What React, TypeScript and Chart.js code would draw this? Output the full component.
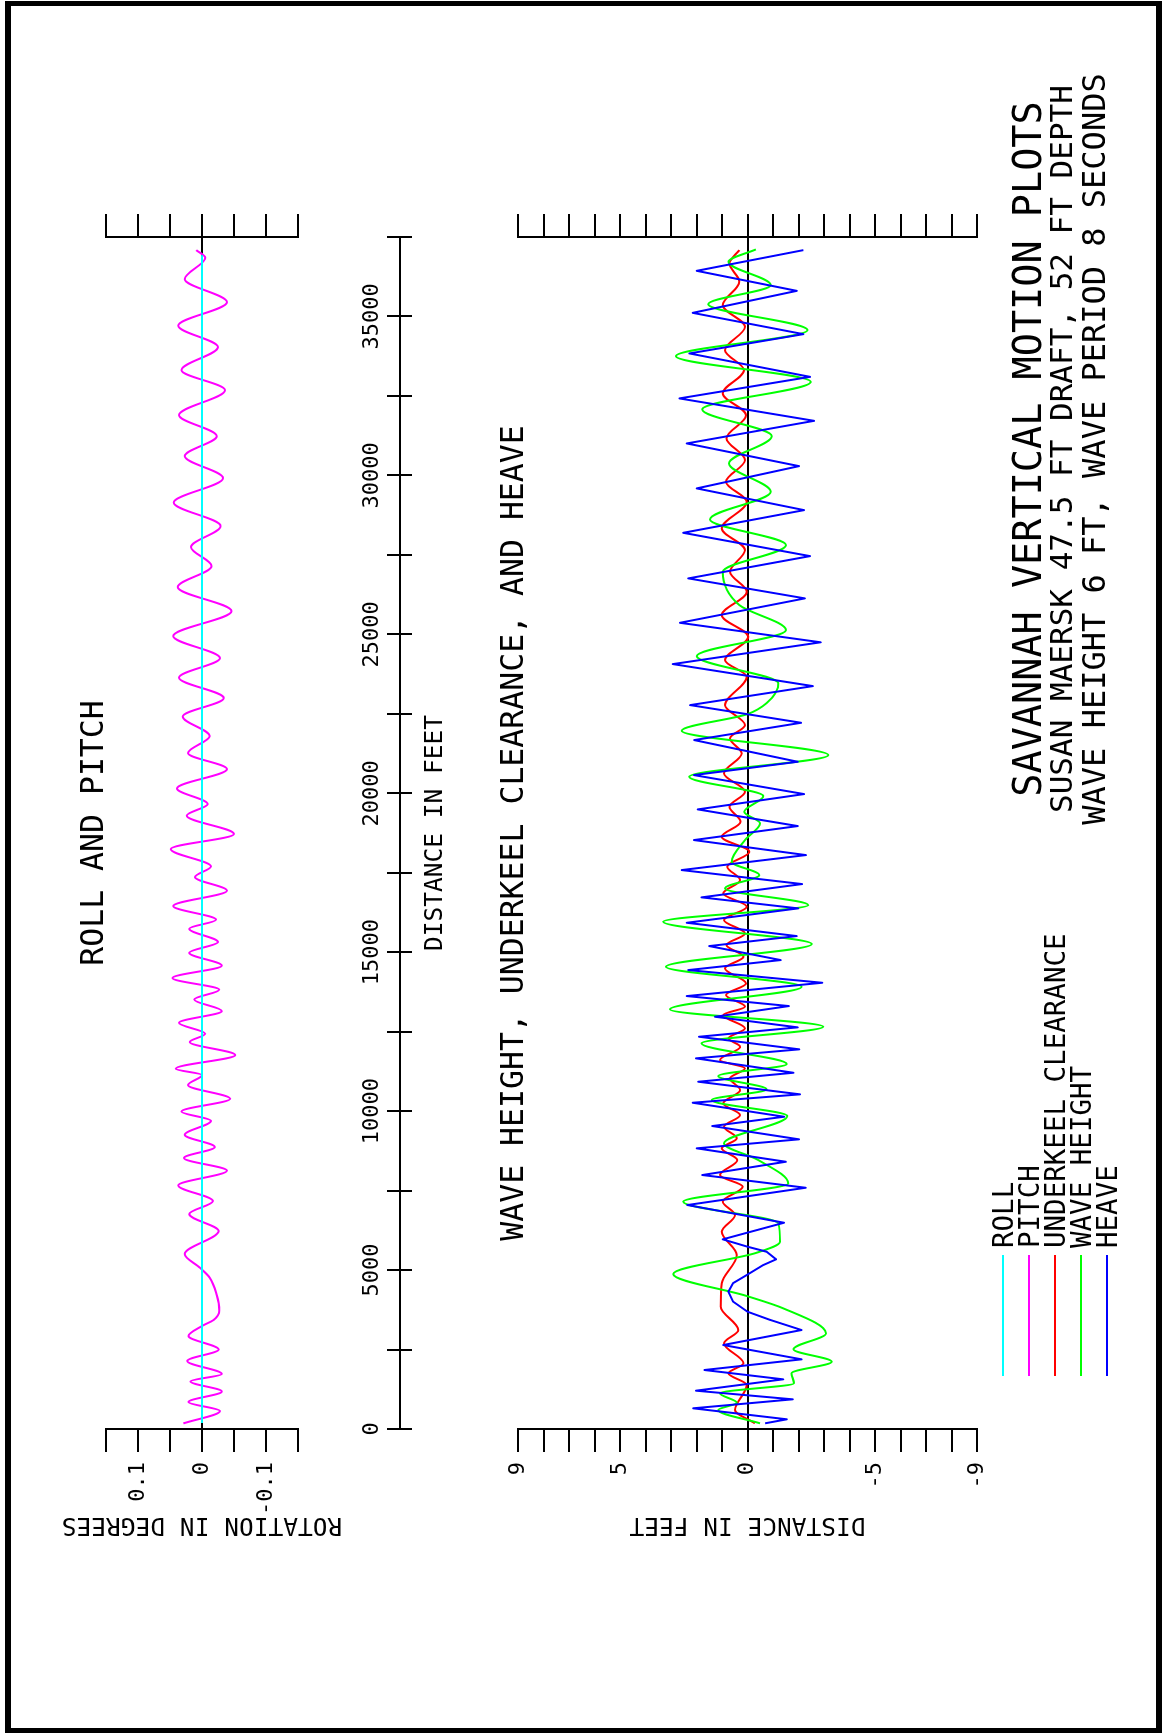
import React, { useEffect, useRef } from 'react';
import { Chart, registerables } from 'chart.js';

Chart.register(...registerables);

const FONT = "'DejaVu Sans Mono', monospace";
Chart.defaults.font.family = FONT;
Chart.defaults.color = '#000';

// ---------------- data (distance in feet along track) ----------------
const rollDist = [189, 36930];
const rollDeg = [0, 0];

const pitchDist = [176, 566, 849, 1180, 1497, 1730, 2139, 2501, 2925, 3240, 3429, 3724, 4215, 4763, 5068, 5505, 6228, 6763, 7172, 7663, 8128, 8525, 8871, 9255, 9695, 9987, 10390, 10821, 11136, 11334, 11765, 12174, 12435, 12778, 13149, 13511, 13819, 14187, 14577, 14980, 15319, 15738, 16021, 16452, 16936, 17364, 17697, 18245, 18717, 19296, 19660, 20151, 20761, 21265, 21799, 22413, 22995, 23637, 24253, 24945, 25731, 26486, 27147, 27745, 28405, 29144, 29915, 30607, 31236, 31897, 32683, 33312, 34036, 34709, 35451, 36175, 36851, 37087];
const pitchDeg = [0.029, -0.028, 0.021, -0.031, 0.018, -0.031, 0.023, -0.026, 0.021, 0.000, -0.018, -0.027, -0.023, -0.012, 0.003, 0.027, -0.026, 0.020, -0.017, 0.037, -0.039, 0.028, -0.020, 0.027, -0.014, 0.032, -0.044, 0.022, 0.000, 0.041, -0.052, 0.019, -0.005, 0.036, -0.031, 0.012, -0.027, 0.046, -0.031, 0.020, -0.025, 0.020, -0.022, 0.045, -0.039, 0.011, -0.014, 0.049, -0.050, 0.024, -0.009, 0.039, -0.039, 0.022, -0.012, 0.030, -0.034, 0.036, -0.028, 0.045, -0.046, 0.038, -0.015, 0.017, -0.029, 0.044, -0.033, 0.027, -0.023, 0.036, -0.036, 0.032, -0.025, 0.037, -0.039, 0.027, -0.005, 0.009];

const ukcDist = [179, 598, 1384, 1752, 2067, 2696, 3114, 3847, 4583, 5473, 6206, 6732, 7150, 7622, 7990, 8462, 8830, 9144, 9509, 9877, 10245, 10664, 11032, 11346, 11607, 12026, 12290, 12604, 13023, 13284, 13652, 14020, 14492, 14857, 15225, 15593, 16011, 16430, 16851, 17269, 17688, 18160, 18631, 19103, 19575, 20047, 20626, 21255, 21727, 22145, 22774, 23664, 24190, 24922, 25605, 26338, 26967, 27650, 28333, 29169, 29798, 30481, 31164, 31896, 32579, 33312, 33941, 34674, 35357, 36090, 36668, 37087];
const ukcFt = [-0.29, 0.49, 0.03, 0.75, 0.16, 0.92, 0.36, 1.05, 1.01, 0.42, 1.01, 0.49, 0.97, 0.19, 1.08, 0.40, 1.01, 0.42, 0.92, 0.29, 0.95, 0.29, 0.69, 0.10, 1.08, 0.29, 0.75, 0.10, 0.95, 0.10, 0.84, 0.06, 0.88, 0.16, 0.82, 0.10, 0.92, 0.03, 0.95, 0.29, 0.79, -0.07, 1.01, 0.27, 0.71, 0.10, 0.92, 0.23, 0.69, 0.10, 0.88, 0.03, 0.88, -0.03, 1.01, 0.03, 0.69, 0.10, 1.01, 0.03, 0.84, 0.10, 0.82, 0.06, 0.97, 0.14, 0.88, 0.10, 0.97, 0.32, 0.71, 0.32];

const waveDist = [179, 598, 827, 1123, 1438, 1752, 2117, 2507, 3010, 3797, 4184, 4876, 5546, 5892, 6470, 7150, 7729, 8462, 8987, 9846, 10349, 10686, 11104, 11481, 12133, 12655, 13202, 13913, 14542, 15256, 15958, 16483, 17008, 17427, 17845, 18528, 19053, 19418, 19912, 20519, 21201, 21966, 22491, 22837, 23457, 24315, 25133, 25920, 26967, 27807, 28615, 29484, 30377, 31236, 32076, 32944, 33752, 34570, 35388, 35986, 36719, 37109];
const waveFt = [-0.49, 1.15, 0.42, 1.08, -1.82, -1.73, -3.30, -1.80, -3.08, -1.40, 0.03, 2.91, -0.36, -1.27, -1.21, 2.52, -1.60, -0.42, 0.92, -1.56, 1.40, -0.75, 1.15, -1.54, 1.80, -2.97, 3.04, -2.12, 3.20, -2.52, 3.30, -2.38, 0.88, -0.46, 0.62, 0.10, -0.49, 0.13, -0.62, 2.28, -3.17, 2.58, 0.00, -0.75, -1.21, 1.99, -1.51, 0.32, 0.97, -1.51, 1.47, -0.91, 0.73, -0.95, 1.77, -2.48, 2.80, -2.35, 1.54, -0.91, 0.75, -0.33];

const heaveDist = [179, 305, 651, 934, 1205, 1563, 1856, 2192, 2642, 3114, 3429, 3690, 4004, 4319, 4592, 4844, 5159, 5338, 5577, 5735, 5967, 6489, 7046, 7590, 7990, 8408, 8830, 9113, 9531, 9824, 10264, 10528, 10925, 11208, 11661, 11944, 12340, 12636, 12969, 13306, 13620, 14039, 14438, 14753, 15193, 15508, 15926, 16379, 16725, 17144, 17584, 18056, 18528, 18968, 19493, 19975, 20572, 20991, 21673, 22218, 22774, 23372, 24064, 24750, 25363, 26131, 26760, 27461, 28194, 28908, 29591, 30292, 31006, 31717, 32422, 33101, 33837, 34444, 35114, 35806, 36436, 37087];
const heaveFt = [-0.69, -1.54, 2.13, -1.77, 2.02, -1.40, 1.69, -2.12, 0.95, -2.12, -0.90, 0.00, 0.56, 0.75, 0.56, 0.03, -0.62, -1.12, -0.75, 0.00, 0.97, -1.43, 2.36, -2.28, 1.77, -1.50, 1.99, -2.02, 1.38, -1.44, 2.15, -2.06, 1.93, -1.80, 2.02, -2.03, 1.90, -1.97, 1.27, -1.62, 2.38, -2.93, 2.32, -1.30, 1.50, -1.93, 2.38, -1.99, 1.80, -2.14, 2.58, -2.29, 2.10, -1.97, 1.95, -2.22, 2.10, -1.97, 2.09, -2.10, 2.25, -2.56, 2.93, -2.87, 2.65, -2.25, 2.32, -2.45, 2.52, -2.22, 1.99, -2.02, 2.38, -2.61, 2.67, -2.45, 2.28, -2.19, 2.15, -1.93, 1.99, -2.19];

// ---------------- ticks / labels ----------------
const distRange = [0, 37500];
const distStep = 2500;
const distTickValues = [0, 5000, 10000, 15000, 20000, 25000, 30000, 35000];
const distTickLabels = ['0', '5000', '10000', '15000', '20000', '25000', '30000', '35000'];

const rollRange = [-0.15, 0.15];
const rollStep = 0.05;
const rollTickValues = [0.1, 0, -0.1];
const rollTickLabels = ['0.1', '0', '-0.1'];

const waveRange = [-9, 9];
const waveStep = 1;
const waveTickValues = [9, 5, 0, -5, -9];
const waveTickLabels = ['9', '5', '0', '-5', '-9'];

const seriesNames = ['ROLL', 'PITCH', 'UNDERKEEL CLEARANCE', 'WAVE HEIGHT', 'HEAVE'];
const seriesColors = ['#00FFFF', '#FF00FF', '#FF0000', '#00FF00', '#0000FF'];

const titleLines = [
  'SAVANNAH VERTICAL MOTION PLOTS',
  'SUSAN MAERSK 47.5 FT DRAFT, 52 FT DEPTH',
  'WAVE HEIGHT 6 FT, WAVE PERIOD 8 SECONDS',
];

// ---------------- geometry (unrotated sheet) ----------------
const W = 1733;
const H = 1163;
const PLOT_L = 304;
const PLOT_R = 1496;
const ROLL_T = 106;
const ROLL_B = 298;
const AXIS_V = 400;
const AXIS_B = 412;
const WAVE_T = 518;
const WAVE_B = 977;
const AXIS_TITLE_SIZE = 24.5;
const X2_H = 38;

function pts(xs: number[], ys: number[]) {
  return xs.map((x, i) => ({ x, y: ys[i] }));
}

function labelFor(values: number[], labels: string[]) {
  return (v: any) => {
    const i = values.findIndex((t) => Math.abs(t - Number(v)) < 1e-6);
    return i >= 0 ? labels[i] : '';
  };
}

function leftAxis(range: number[], step: number, vals: number[], labs: string[], title: string) {
  return {
    type: 'linear',
    position: 'left',
    min: range[0],
    max: range[1],
    afterFit: (s: any) => {
      s.width = PLOT_L;
    },
    ticks: {
      stepSize: step,
      autoSkip: false,
      padding: 10,
      color: '#000',
      font: { family: FONT, size: 22 },
      callback: labelFor(vals, labs),
    },
    grid: {
      drawOnChartArea: true,
      drawTicks: true,
      tickLength: 23,
      lineWidth: 2,
      tickColor: '#000',
      color: (ctx: any) => (ctx.tick && Math.abs(ctx.tick.value) < 1e-9 ? '#000' : 'rgba(0,0,0,0)'),
    },
    border: { display: true, color: '#000', width: 2 },
    title: {
      display: true,
      text: title,
      color: '#000',
      font: { family: FONT, size: AXIS_TITLE_SIZE },
      padding: { top: 209 - (AXIS_TITLE_SIZE * 1.2) / 2, bottom: 0 },
    },
  };
}

function rightAxis(range: number[], step: number) {
  return {
    type: 'linear',
    position: 'right',
    min: range[0],
    max: range[1],
    afterFit: (s: any) => {
      s.width = W - PLOT_R;
    },
    ticks: { stepSize: step, autoSkip: false, display: false },
    grid: { drawOnChartArea: false, drawTicks: true, tickLength: 23, lineWidth: 2, color: '#000', tickColor: '#000' },
    border: { display: true, color: '#000', width: 2 },
  };
}

const hiddenX = { type: 'linear', min: distRange[0], max: distRange[1], display: false };

const baseOptions = {
  responsive: false,
  animation: false,
  events: [],
  plugins: { legend: { display: false }, tooltip: { enabled: false }, title: { display: false } },
};

function rollConfig(): any {
  return {
    type: 'line',
    data: {
      datasets: [
        { label: seriesNames[0], data: pts(rollDist, rollDeg), borderColor: seriesColors[0], borderWidth: 2, pointRadius: 0, fill: false },
        { label: seriesNames[1], data: pts(pitchDist, pitchDeg), borderColor: seriesColors[1], borderWidth: 2, pointRadius: 0, fill: false, cubicInterpolationMode: 'monotone' },
      ],
    },
    options: {
      ...baseOptions,
      layout: { padding: { left: 0, right: 0, top: ROLL_T, bottom: H - ROLL_B } },
      scales: {
        x: hiddenX,
        y: leftAxis(rollRange, rollStep, rollTickValues, rollTickLabels, 'ROTATION IN DEGREES'),
        y2: rightAxis(rollRange, rollStep),
      },
    },
  };
}

function axisConfig(): any {
  return {
    type: 'line',
    data: { datasets: [] },
    options: {
      ...baseOptions,
      layout: { padding: { left: PLOT_L, right: W - PLOT_R, top: 0, bottom: H - AXIS_B - X2_H } },
      scales: {
        x: {
          type: 'linear',
          position: 'top',
          min: distRange[0],
          max: distRange[1],
          afterFit: (s: any) => {
            s.height = AXIS_V;
          },
          ticks: {
            stepSize: distStep,
            autoSkip: false,
            maxRotation: 0,
            minRotation: 0,
            padding: 2,
            color: '#000',
            font: { family: FONT, size: 22 },
            callback: labelFor(distTickValues, distTickLabels),
          },
          grid: { drawOnChartArea: true, drawTicks: true, tickLength: 13, lineWidth: 2, color: '#000', tickColor: '#000' },
          border: { display: true, color: '#000', width: 2 },
        },
        x2: {
          type: 'linear',
          position: 'bottom',
          min: distRange[0],
          max: distRange[1],
          afterFit: (s: any) => {
            s.height = X2_H;
          },
          ticks: { display: false },
          grid: { display: false },
          border: { display: false },
          title: { display: true, text: 'DISTANCE IN FEET', color: '#000', font: { family: FONT, size: AXIS_TITLE_SIZE }, padding: { top: 0, bottom: 0 } },
        },
        y: { type: 'linear', display: false, min: 0, max: 1 },
      },
    },
  };
}

function waveConfig(): any {
  return {
    type: 'line',
    data: {
      datasets: [
        { label: seriesNames[4], data: pts(heaveDist, heaveFt), borderColor: seriesColors[4], borderWidth: 2, pointRadius: 0, fill: false, tension: 0, borderJoinStyle: 'round' },
        { label: seriesNames[3], data: pts(waveDist, waveFt), borderColor: seriesColors[3], borderWidth: 2, pointRadius: 0, fill: false, cubicInterpolationMode: 'monotone', borderJoinStyle: 'round' },
        { label: seriesNames[2], data: pts(ukcDist, ukcFt), borderColor: seriesColors[2], borderWidth: 2, pointRadius: 0, fill: false, cubicInterpolationMode: 'monotone' },
      ],
    },
    options: {
      ...baseOptions,
      layout: { padding: { left: 0, right: 0, top: WAVE_T, bottom: H - WAVE_B } },
      scales: {
        x: hiddenX,
        y: leftAxis(waveRange, waveStep, waveTickValues, waveTickLabels, 'DISTANCE IN FEET'),
        y2: rightAxis(waveRange, waveStep),
      },
    },
  };
}

function Txt(props: { text: string; u: number; v: number; size: number; align?: 'center' | 'left' }) {
  const { text, u, v, size, align = 'center' } = props;
  const style: React.CSSProperties = {
    position: 'absolute',
    top: v - 0.4815 * size,
    fontFamily: FONT,
    fontSize: size,
    lineHeight: `${size}px`,
    whiteSpace: 'pre',
    color: '#000',
  };
  if (align === 'center') {
    style.left = u - 1000;
    style.width = 2000;
    style.textAlign = 'center';
  } else {
    style.left = u;
  }
  return <div style={style}>{text}</div>;
}

const canvasStyle: React.CSSProperties = { position: 'absolute', left: 0, top: 0, width: W, height: H };

export default function App() {
  const rollRef = useRef<HTMLCanvasElement>(null);
  const axisRef = useRef<HTMLCanvasElement>(null);
  const waveRef = useRef<HTMLCanvasElement>(null);

  useEffect(() => {
    const charts: Chart[] = [];
    if (rollRef.current) charts.push(new Chart(rollRef.current, rollConfig()));
    if (axisRef.current) charts.push(new Chart(axisRef.current, axisConfig()));
    if (waveRef.current) charts.push(new Chart(waveRef.current, waveConfig()));
    return () => charts.forEach((c) => c.destroy());
  }, []);

  const legendV0 = 1003;
  const legendStep = 26;

  return (
    <div style={{ position: 'fixed', left: 0, top: 0, width: 1163, height: 1733, background: '#fff', overflow: 'hidden' }}>
      <div
        style={{
          position: 'absolute',
          left: 0,
          top: 0,
          width: W,
          height: H,
          transformOrigin: '0 0',
          transform: `translateY(${W}px) rotate(-90deg)`,
        }}
      >
        <canvas ref={rollRef} width={W} height={H} style={canvasStyle} />
        <canvas ref={axisRef} width={W} height={H} style={canvasStyle} />
        <canvas ref={waveRef} width={W} height={H} style={canvasStyle} />

        <Txt text="ROLL AND PITCH" u={900} v={92} size={31.5} />
        <Txt text="WAVE HEIGHT, UNDERKEEL CLEARANCE, AND HEAVE" u={900} v={512} size={31.5} />

        <Txt text={titleLines[0]} u={1284} v={1028} size={38.5} />
        <Txt text={titleLines[1]} u={1284} v={1061} size={31} />
        <Txt text={titleLines[2]} u={1284} v={1093} size={32} />

        {seriesNames.map((name, i) => (
          <React.Fragment key={name}>
            <div
              style={{
                position: 'absolute',
                left: 357,
                top: legendV0 + i * legendStep - 1,
                width: 121,
                height: 2,
                background: seriesColors[i],
              }}
            />
            <Txt text={name} u={485} v={legendV0 + i * legendStep} size={27.5} align="left" />
          </React.Fragment>
        ))}
      </div>
      <div
        style={{
          position: 'absolute',
          left: 5,
          top: 1,
          width: 1157,
          height: 1732,
          boxSizing: 'border-box',
          borderLeft: '6px solid #000',
          borderRight: '6px solid #000',
          borderTop: '5px solid #000',
          borderBottom: '5px solid #000',
        }}
      />
    </div>
  );
}
